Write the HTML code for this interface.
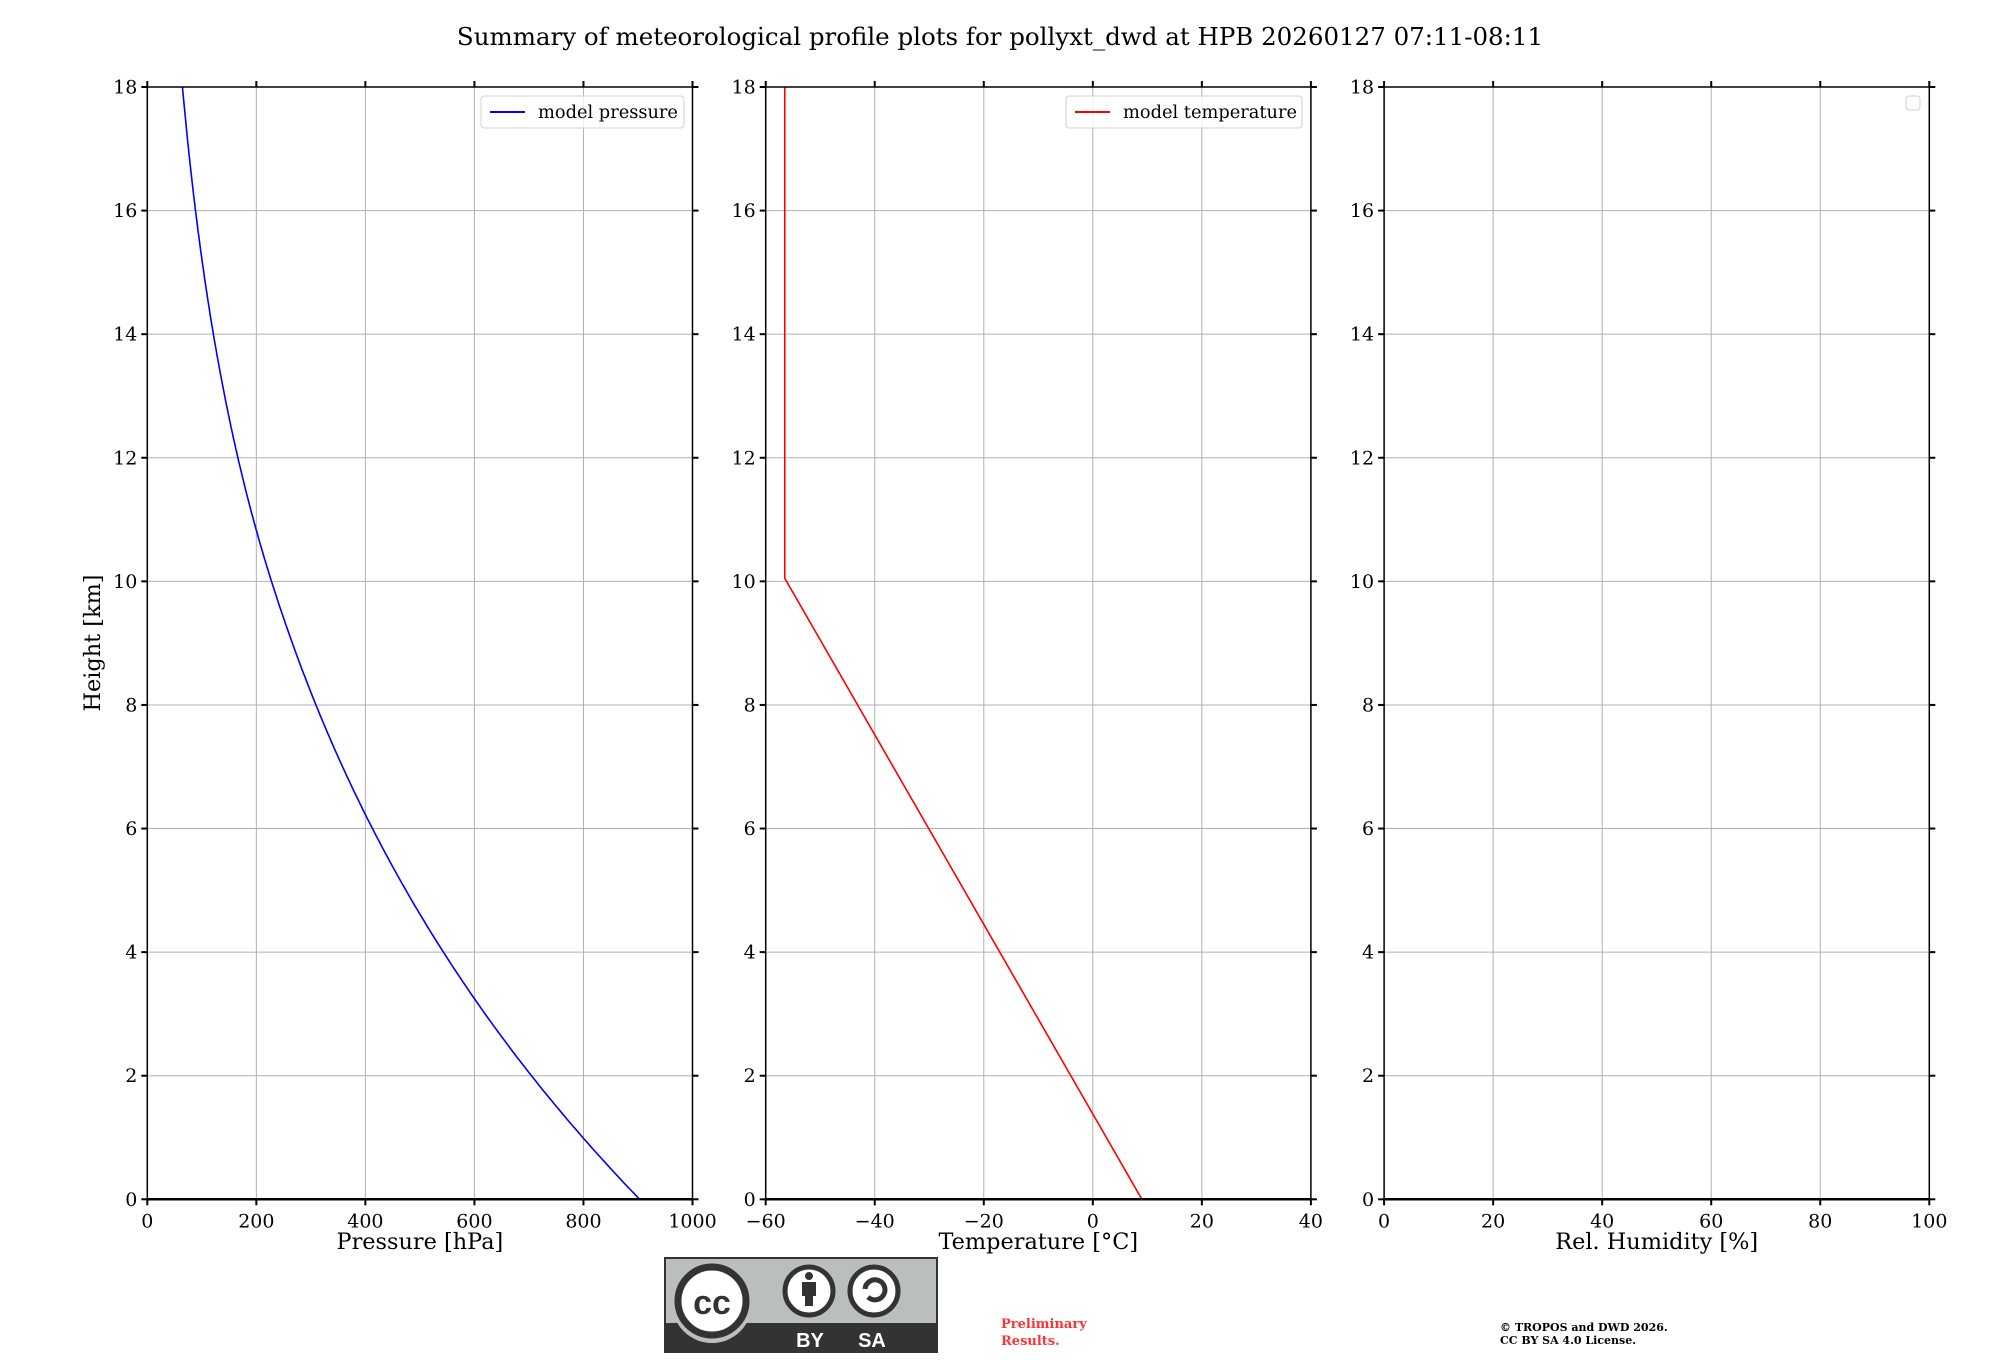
<!DOCTYPE html>
<html><head><meta charset="utf-8"><style>
html,body{margin:0;padding:0;background:#fff;}
svg{display:block;font-family:"DejaVu Serif","Liberation Serif",serif;}
</style></head><body>
<svg id="s" width="2000" height="1360" viewBox="0 0 2000 1360" xmlns="http://www.w3.org/2000/svg">
<text x="1000" y="45" font-size="24.5" text-anchor="middle">Summary of meteorological profile plots for pollyxt_dwd at HPB 20260127 07:11-08:11</text>
<g id="axes"></g>
<g transform="translate(665,1258)">
<rect x="0" y="0" width="272" height="94" fill="#bbbfbb" stroke="#333" stroke-width="2"/>
<rect x="0" y="65" width="272" height="29" fill="#333"/>
<circle cx="47" cy="45" r="40" fill="#bbbfbb"/>
<circle cx="47" cy="43" r="34" fill="#fff" stroke="#333" stroke-width="7"/>
<text x="47" y="56" font-family="Liberation Sans,sans-serif" font-weight="bold" font-size="34" text-anchor="middle" fill="#333">cc</text>
<circle cx="144" cy="33" r="24" fill="#fff" stroke="#333" stroke-width="5"/>
<circle cx="144" cy="18" r="4" fill="#333"/>
<rect x="137" y="24" width="14" height="14" fill="#333"/><rect x="140" y="36" width="8" height="12" fill="#333"/>
<circle cx="209" cy="33" r="24" fill="#fff" stroke="#333" stroke-width="5"/>
<path d="M200 31 a10 10 0 1 1 3 8" fill="none" stroke="#333" stroke-width="5"/>
<text x="145" y="89" font-family="Liberation Sans,sans-serif" font-weight="bold" font-size="20" text-anchor="middle" fill="#fff">BY</text>
<text x="207" y="89" font-family="Liberation Sans,sans-serif" font-weight="bold" font-size="20" text-anchor="middle" fill="#fff">SA</text>
</g>
<text x="1001" y="1328" font-size="13" font-weight="bold" fill="#ff3333">Preliminary</text>
<text x="1001" y="1345" font-size="13" font-weight="bold" fill="#ff3333">Results.</text>
<text x="1500" y="1331" font-size="11" font-weight="bold">© TROPOS and DWD 2026.</text>
<text x="1500" y="1344" font-size="11" font-weight="bold">CC BY SA 4.0 License.</text>
</svg>
<script>
(function(){
var g=document.getElementById('axes');var h='';
var T=87,B=1199.3,H=B-T,W=545.2;
var Ls=[147.3,765.7,1384.1];
var xr=[[0,1000,[0,200,400,600,800,1000],'Pressure [hPa]'],[-60,40,[-60,-40,-20,0,20,40],'Temperature [°C]'],[0,100,[0,20,40,60,80,100],'Rel. Humidity [%]']];
function Y(z){return B-z/18*H;}
for(var k=0;k<3;k++){
 var L=Ls[k],R=L+W,a=xr[k];
 function X(v){return L+(v-a[0])/(a[1]-a[0])*W;}
 for(var z=0;z<=18;z+=2){var y=Y(z);
  h+='<line x1="'+L+'" x2="'+R+'" y1="'+y+'" y2="'+y+'" stroke="#b0b0b0" stroke-width="1"/>';
  h+='<line x1="'+(L-6)+'" x2="'+L+'" y1="'+y+'" y2="'+y+'" stroke="#000" stroke-width="2"/>';
  h+='<line x1="'+R+'" x2="'+(R+6)+'" y1="'+y+'" y2="'+y+'" stroke="#000" stroke-width="2"/>';
  h+='<text x="'+(L-10)+'" y="'+(y+6.5)+'" font-size="19" text-anchor="end">'+z+'</text>';}
 a[2].forEach(function(v){var x=X(v);
  h+='<line x1="'+x+'" x2="'+x+'" y1="'+T+'" y2="'+B+'" stroke="#b0b0b0" stroke-width="1"/>';
  h+='<line x1="'+x+'" x2="'+x+'" y1="'+B+'" y2="'+(B+6)+'" stroke="#000" stroke-width="2"/>';
  h+='<line x1="'+x+'" x2="'+x+'" y1="'+(T-6)+'" y2="'+T+'" stroke="#000" stroke-width="2"/>';
  h+='<text x="'+x+'" y="'+(B+28)+'" font-size="19" text-anchor="middle">'+(v<0?'\u2212'+(-v):v)+'</text>';});
 h+='<text x="'+(L+W/2)+'" y="1249" font-size="22.4" text-anchor="middle">'+a[3]+'</text>';
 var pts=[];
 if(k==0){for(var i=0;i<=360;i++){var z=i*0.05,p;
   if(z<=10.05){p=903*Math.pow((282-6.5*z)/282,5.256);}else{p=903*Math.pow((282-6.5*10.05)/282,5.256)*Math.exp(-(z-10.05)/6.34);}
   pts.push(X(p).toFixed(1)+','+Y(z).toFixed(1));}
  h+='<polyline points="'+pts.join(' ')+'" fill="none" stroke="#0000ff" stroke-width="1.6"/>';}
 if(k==1){h+='<polyline points="'+X(9)+','+Y(0)+' '+X(-56.5)+','+Y(10.05)+' '+X(-56.5)+','+Y(18)+'" fill="none" stroke="#ff0000" stroke-width="1.6"/>';}
 h+='<rect x="'+L+'" y="'+T+'" width="'+W+'" height="'+H+'" fill="none" stroke="#000" stroke-width="1.5"/>';
 h+='<line x1="'+L+'" x2="'+R+'" y1="'+B+'" y2="'+B+'" stroke="#000" stroke-width="2.5"/>';
}
h+='<rect x="481" y="96" width="203" height="32" rx="3" fill="#fff" fill-opacity="0.8" stroke="#d0d0d0"/>';
h+='<line x1="490" x2="525" y1="112" y2="112" stroke="#0000ff" stroke-width="2"/>';
h+='<text x="538" y="118" font-size="17.8">model pressure</text>';
h+='<rect x="1066" y="96" width="236" height="32" rx="3" fill="#fff" fill-opacity="0.8" stroke="#d0d0d0"/>';
h+='<line x1="1075" x2="1110" y1="112" y2="112" stroke="#ff0000" stroke-width="2"/>';
h+='<text x="1123" y="118" font-size="17.8">model temperature</text>';
h+='<rect x="1906" y="96" width="14" height="14" rx="3" fill="#fff" stroke="#d0d0d0"/>';
h+='<text transform="translate(100,643) rotate(-90)" font-size="22.4" text-anchor="middle">Height [km]</text>';
g.innerHTML=h;
})();
</script>
</body></html>
